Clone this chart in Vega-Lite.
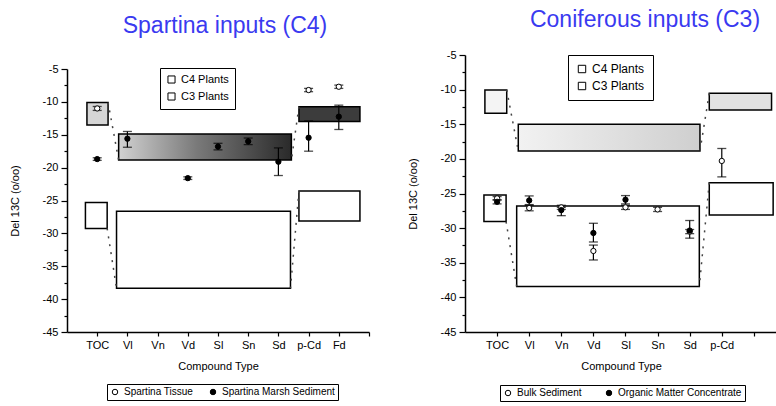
{
  "$schema": "https://vega.github.io/schema/vega-lite/v6.json",
  "background": "white",
  "padding": {"left": 9, "top": 9, "right": 0, "bottom": 0},
  "spacing": 37,
  "config": {
    "view": {"stroke": null},
    "font": "Liberation Sans",
    "axis": {"domainColor": "black", "domainWidth": 1.5, "tickColor": "black", "tickWidth": 1.2, "labelColor": "black", "titleColor": "black", "labelFontSize": 11, "titleFontSize": 11, "titleFontWeight": "normal", "grid": false, "labelPadding": 3, "labelOverlap": false, "labelFlush": false},
    "legend": {"labelFontSize": 10, "labelColor": "black"}
  },
  "resolve": {"scale": {"fill": "independent", "stroke": "independent"}, "legend": {"fill": "independent", "stroke": "independent"}},
  "datasets": {
    "boxL": [
      {"grp": "TOC", "plant": "C4 Plants", "x": 0.66, "x2": 1.36, "y": -10.1, "y2": -13.5},
      {"grp": "V-S", "plant": "C4 Plants", "x": 1.71, "x2": 7.43, "y": -14.9, "y2": -18.85},
      {"grp": "p-Cd", "plant": "C4 Plants", "x": 7.68, "x2": 9.7, "y": -10.75, "y2": -13.0},
      {"grp": "TOC", "plant": "C3 Plants", "x": 0.61, "x2": 1.33, "y": -25.3, "y2": -29.25},
      {"grp": "V-S", "plant": "C3 Plants", "x": 1.64, "x2": 7.4, "y": -26.65, "y2": -38.35},
      {"grp": "p-Cd", "plant": "C3 Plants", "x": 7.68, "x2": 9.7, "y": -23.55, "y2": -28.1}
    ],
    "connL": [
      {"x": 1.36, "y": -10.1, "x2": 1.71, "y2": -18.85},
      {"x": 1.33, "y": -29.25, "x2": 1.64, "y2": -38.35},
      {"x": 7.68, "y": -10.75, "x2": 7.43, "y2": -18.85},
      {"x": 7.68, "y": -23.55, "x2": 7.4, "y2": -38.35}
    ],
    "ptsL": [
      {"series": "Spartina Tissue", "x": 1, "y": -11.0, "lo": -11.3, "hi": -10.7},
      {"series": "Spartina Tissue", "x": 8, "y": -8.2, "lo": -8.45, "hi": -7.95},
      {"series": "Spartina Tissue", "x": 9, "y": -7.7, "lo": -7.95, "hi": -7.45},
      {"series": "Spartina Marsh Sediment", "x": 1, "y": -18.7, "lo": -18.9, "hi": -18.5},
      {"series": "Spartina Marsh Sediment", "x": 2, "y": -15.6, "lo": -16.9, "hi": -14.5},
      {"series": "Spartina Marsh Sediment", "x": 4, "y": -21.6, "lo": -21.8, "hi": -21.4},
      {"series": "Spartina Marsh Sediment", "x": 5, "y": -16.8, "lo": -17.3, "hi": -16.3},
      {"series": "Spartina Marsh Sediment", "x": 6, "y": -16.0, "lo": -16.5, "hi": -15.5},
      {"series": "Spartina Marsh Sediment", "x": 7, "y": -19.1, "lo": -21.2, "hi": -17.0},
      {"series": "Spartina Marsh Sediment", "x": 8, "y": -15.45, "lo": -17.5, "hi": -12.9},
      {"series": "Spartina Marsh Sediment", "x": 9, "y": -12.25, "lo": -14.2, "hi": -10.5}
    ],
    "boxR": [
      {"grp": "TOC", "plant": "C4 Plants", "x": 0.62, "x2": 1.3, "y": -10.05, "y2": -13.41},
      {"grp": "V-S", "plant": "C4 Plants", "x": 1.66, "x2": 7.32, "y": -15.0, "y2": -18.85},
      {"grp": "p-Cd", "plant": "C4 Plants", "x": 7.61, "x2": 9.55, "y": -10.53, "y2": -12.94},
      {"grp": "TOC", "plant": "C3 Plants", "x": 0.59, "x2": 1.28, "y": -25.2, "y2": -29.05},
      {"grp": "V-S", "plant": "C3 Plants", "x": 1.61, "x2": 7.3, "y": -26.8, "y2": -38.43},
      {"grp": "p-Cd", "plant": "C3 Plants", "x": 7.61, "x2": 9.6, "y": -23.43, "y2": -28.09}
    ],
    "connR": [
      {"x": 1.3, "y": -10.05, "x2": 1.66, "y2": -18.85},
      {"x": 1.28, "y": -29.05, "x2": 1.61, "y2": -38.43},
      {"x": 7.61, "y": -10.53, "x2": 7.32, "y2": -18.85},
      {"x": 7.61, "y": -23.43, "x2": 7.3, "y2": -38.43}
    ],
    "ptsR": [
      {"series": "Bulk Sediment", "x": 1, "y": -25.7, "lo": -25.95, "hi": -25.45},
      {"series": "Bulk Sediment", "x": 2, "y": -27.1, "lo": -27.5, "hi": -26.7},
      {"series": "Bulk Sediment", "x": 3, "y": -27.0, "lo": -27.3, "hi": -26.7},
      {"series": "Bulk Sediment", "x": 4, "y": -33.3, "lo": -34.6, "hi": -32.45},
      {"series": "Bulk Sediment", "x": 5, "y": -27.0, "lo": -27.3, "hi": -26.7},
      {"series": "Bulk Sediment", "x": 6, "y": -27.3, "lo": -27.6, "hi": -27.0},
      {"series": "Bulk Sediment", "x": 7, "y": -30.5, "lo": -30.8, "hi": -30.2},
      {"series": "Bulk Sediment", "x": 8, "y": -20.3, "lo": -22.6, "hi": -18.5},
      {"series": "Organic Matter Concentrate", "x": 1, "y": -26.2, "lo": -26.5, "hi": -25.9},
      {"series": "Organic Matter Concentrate", "x": 2, "y": -26.0, "lo": -26.6, "hi": -25.35},
      {"series": "Organic Matter Concentrate", "x": 3, "y": -27.4, "lo": -28.2, "hi": -27.0},
      {"series": "Organic Matter Concentrate", "x": 4, "y": -30.7, "lo": -32.0, "hi": -29.3},
      {"series": "Organic Matter Concentrate", "x": 5, "y": -25.9, "lo": -26.5, "hi": -25.3},
      {"series": "Organic Matter Concentrate", "x": 7, "y": -30.35, "lo": -31.45, "hi": -28.9}
    ]
  },
  "hconcat": [
    {
      "width": 302,
      "height": 277,
      "title": {"text": "Spartina inputs (C4)", "fontSize": 23, "font": "Liberation Sans", "fontWeight": "normal", "color": "#3a3af0", "offset": 17, "dx": 7},
      "layer": [
        {
          "data": {"name": "boxL"},
          "transform": [{"filter": "datum.plant === 'C3 Plants'"}],
          "mark": {"type": "rect", "fill": "white", "strokeWidth": 1.5},
          "encoding": {
            "x": {"field": "x", "type": "quantitative", "scale": {"domain": [0, 10], "nice": false, "zero": false},
                  "axis": {"title": "Compound Type", "values": [1, 2, 3, 4, 5, 6, 7, 8, 9, 10], "tickCount": 100, "labelExpr": "['','TOC','Vl','Vn','Vd','Sl','Sn','Sd','p-Cd','Fd',''][datum.value]", "tickSize": 4, "titlePadding": 10, "labelOverlap": false}},
            "x2": {"field": "x2"},
            "y": {"field": "y", "type": "quantitative", "scale": {"domain": [-45, -5], "range": [277, 14], "nice": false, "zero": false},
                  "axis": {"title": "Del 13C (o/oo)", "values": [-45, -42.5, -40, -37.5, -35, -32.5, -30, -27.5, -25, -22.5, -20, -17.5, -15, -12.5, -10, -7.5, -5], "tickCount": 100, "labelExpr": "datum.value % 5 === 0 ? '' + datum.value : ''", "tickSize": {"condition": {"test": "datum.value % 5 === 0", "value": 6}, "value": 3}, "titlePadding": 22, "labelOverlap": false}},
            "y2": {"field": "y2"},
            "stroke": {"field": "plant", "type": "nominal", "scale": {"domain": ["C4 Plants", "C3 Plants"], "range": ["black", "black"]},
                       "legend": {"orient": "none", "legendX": 93, "legendY": 13, "title": null, "symbolType": "square", "symbolFillColor": "white", "symbolStrokeColor": "black", "symbolStrokeWidth": 1, "symbolSize": 50, "strokeColor": "black", "padding": 6, "labelFontSize": 11, "rowPadding": 4}}
          }
        },
        {
          "data": {"name": "boxL"},
          "transform": [{"filter": "datum.plant === 'C4 Plants' && datum.grp === 'TOC'"}],
          "mark": {"type": "rect", "fill": "#d6d6d6", "stroke": "black", "strokeWidth": 1.5},
          "encoding": {"x": {"field": "x", "type": "quantitative"}, "x2": {"field": "x2"}, "y": {"field": "y", "type": "quantitative"}, "y2": {"field": "y2"}}
        },
        {
          "data": {"name": "boxL"},
          "transform": [{"filter": "datum.plant === 'C4 Plants' && datum.grp === 'V-S'"}],
          "mark": {"type": "rect", "stroke": "black", "strokeWidth": 1.5,
                   "fill": {"gradient": "linear", "x1": 0, "y1": 0, "x2": 1, "y2": 0, "stops": [{"offset": 0, "color": "#d2d2d2"}, {"offset": 0.45, "color": "#7a7a7a"}, {"offset": 1, "color": "#2a2a2a"}]}},
          "encoding": {"x": {"field": "x", "type": "quantitative"}, "x2": {"field": "x2"}, "y": {"field": "y", "type": "quantitative"}, "y2": {"field": "y2"}}
        },
        {
          "data": {"name": "boxL"},
          "transform": [{"filter": "datum.plant === 'C4 Plants' && datum.grp === 'p-Cd'"}],
          "mark": {"type": "rect", "fill": "#3c3c3c", "stroke": "black", "strokeWidth": 1.5},
          "encoding": {"x": {"field": "x", "type": "quantitative"}, "x2": {"field": "x2"}, "y": {"field": "y", "type": "quantitative"}, "y2": {"field": "y2"}}
        },
        {
          "data": {"name": "connL"},
          "mark": {"type": "rule", "color": "#444", "strokeWidth": 1.5, "strokeDash": [2, 6]},
          "encoding": {"x": {"field": "x", "type": "quantitative"}, "x2": {"field": "x2"}, "y": {"field": "y", "type": "quantitative"}, "y2": {"field": "y2"}}
        },
        {
          "data": {"name": "ptsL"},
          "mark": {"type": "rule", "color": "black", "strokeWidth": 1.2},
          "encoding": {"x": {"field": "x", "type": "quantitative"}, "y": {"field": "lo", "type": "quantitative"}, "y2": {"field": "hi"}}
        },
        {
          "data": {"name": "ptsL"},
          "mark": {"type": "tick", "orient": "horizontal", "color": "black", "size": 9, "thickness": 1.3},
          "encoding": {"x": {"field": "x", "type": "quantitative"}, "y": {"field": "lo", "type": "quantitative"}}
        },
        {
          "data": {"name": "ptsL"},
          "mark": {"type": "tick", "orient": "horizontal", "color": "black", "size": 9, "thickness": 1.3},
          "encoding": {"x": {"field": "x", "type": "quantitative"}, "y": {"field": "hi", "type": "quantitative"}}
        },
        {
          "data": {"name": "ptsL"},
          "mark": {"type": "point", "shape": "circle", "filled": true, "size": 28, "stroke": "black", "strokeWidth": 1, "opacity": 1},
          "encoding": {
            "x": {"field": "x", "type": "quantitative"},
            "y": {"field": "y", "type": "quantitative"},
            "fill": {"field": "series", "type": "nominal", "scale": {"domain": ["Spartina Tissue", "Spartina Marsh Sediment"], "range": ["white", "black"]},
                     "legend": {"orient": "none", "legendX": 40, "legendY": 329, "direction": "horizontal", "title": null, "strokeColor": "black", "padding": 3, "columnPadding": 14, "symbolType": "circle", "symbolSize": 30, "symbolStrokeColor": "black", "symbolStrokeWidth": 1, "labelFontSize": 10, "labelLimit": 200}}
          }
        }
      ]
    },
    {
      "width": 312,
      "height": 277,
      "title": {"text": "Coniferous inputs (C3)", "fontSize": 23, "font": "Liberation Sans", "fontWeight": "normal", "color": "#3a3af0", "offset": 17, "dx": 24},
      "layer": [
        {
          "data": {"name": "boxR"},
          "transform": [{"filter": "datum.plant === 'C3 Plants'"}],
          "mark": {"type": "rect", "fill": "white", "strokeWidth": 1.5},
          "encoding": {
            "x": {"field": "x", "type": "quantitative", "scale": {"domain": [0, 9.72], "nice": false, "zero": false},
                  "axis": {"title": "Compound Type", "values": [1, 2, 3, 4, 5, 6, 7, 8, 9], "tickCount": 100, "labelExpr": "['','TOC','Vl','Vn','Vd','Sl','Sn','Sd','p-Cd',''][datum.value]", "tickSize": 4, "titlePadding": 10, "labelOverlap": false}},
            "x2": {"field": "x2"},
            "y": {"field": "y", "type": "quantitative", "scale": {"domain": [-45, -5], "nice": false, "zero": false},
                  "axis": {"title": "Del 13C (o/oo)", "values": [-45, -42.5, -40, -37.5, -35, -32.5, -30, -27.5, -25, -22.5, -20, -17.5, -15, -12.5, -10, -7.5, -5], "tickCount": 100, "labelExpr": "datum.value % 5 === 0 ? '' + datum.value : ''", "tickSize": {"condition": {"test": "datum.value % 5 === 0", "value": 6}, "value": 3}, "titlePadding": 22, "labelOverlap": false}},
            "y2": {"field": "y2"},
            "stroke": {"field": "plant", "type": "nominal", "scale": {"domain": ["C4 Plants", "C3 Plants"], "range": ["black", "black"]},
                       "legend": {"orient": "none", "legendX": 103, "legendY": 0, "title": null, "symbolType": "square", "symbolFillColor": "white", "symbolStrokeColor": "black", "symbolStrokeWidth": 1, "symbolSize": 55, "strokeColor": "black", "padding": 8, "labelFontSize": 12, "rowPadding": 5}}
          }
        },
        {
          "data": {"name": "boxR"},
          "transform": [{"filter": "datum.plant === 'C4 Plants' && datum.grp === 'TOC'"}],
          "mark": {"type": "rect", "fill": "#f4f4f4", "stroke": "black", "strokeWidth": 1.5},
          "encoding": {"x": {"field": "x", "type": "quantitative"}, "x2": {"field": "x2"}, "y": {"field": "y", "type": "quantitative"}, "y2": {"field": "y2"}}
        },
        {
          "data": {"name": "boxR"},
          "transform": [{"filter": "datum.plant === 'C4 Plants' && datum.grp === 'V-S'"}],
          "mark": {"type": "rect", "stroke": "black", "strokeWidth": 1.5,
                   "fill": {"gradient": "linear", "x1": 0, "y1": 0, "x2": 1, "y2": 0, "stops": [{"offset": 0, "color": "#f2f2f2"}, {"offset": 1, "color": "#cfcfcf"}]}},
          "encoding": {"x": {"field": "x", "type": "quantitative"}, "x2": {"field": "x2"}, "y": {"field": "y", "type": "quantitative"}, "y2": {"field": "y2"}}
        },
        {
          "data": {"name": "boxR"},
          "transform": [{"filter": "datum.plant === 'C4 Plants' && datum.grp === 'p-Cd'"}],
          "mark": {"type": "rect", "fill": "#e2e2e2", "stroke": "black", "strokeWidth": 1.5},
          "encoding": {"x": {"field": "x", "type": "quantitative"}, "x2": {"field": "x2"}, "y": {"field": "y", "type": "quantitative"}, "y2": {"field": "y2"}}
        },
        {
          "data": {"name": "connR"},
          "mark": {"type": "rule", "color": "#444", "strokeWidth": 1.5, "strokeDash": [2, 6]},
          "encoding": {"x": {"field": "x", "type": "quantitative"}, "x2": {"field": "x2"}, "y": {"field": "y", "type": "quantitative"}, "y2": {"field": "y2"}}
        },
        {
          "data": {"name": "ptsR"},
          "mark": {"type": "rule", "color": "black", "strokeWidth": 1.2},
          "encoding": {"x": {"field": "x", "type": "quantitative"}, "y": {"field": "lo", "type": "quantitative"}, "y2": {"field": "hi"}}
        },
        {
          "data": {"name": "ptsR"},
          "mark": {"type": "tick", "orient": "horizontal", "color": "black", "size": 9, "thickness": 1.3},
          "encoding": {"x": {"field": "x", "type": "quantitative"}, "y": {"field": "lo", "type": "quantitative"}}
        },
        {
          "data": {"name": "ptsR"},
          "mark": {"type": "tick", "orient": "horizontal", "color": "black", "size": 9, "thickness": 1.3},
          "encoding": {"x": {"field": "x", "type": "quantitative"}, "y": {"field": "hi", "type": "quantitative"}}
        },
        {
          "data": {"name": "ptsR"},
          "mark": {"type": "point", "shape": "circle", "filled": true, "size": 28, "stroke": "black", "strokeWidth": 1, "opacity": 1},
          "encoding": {
            "x": {"field": "x", "type": "quantitative"},
            "y": {"field": "y", "type": "quantitative"},
            "fill": {"field": "series", "type": "nominal", "scale": {"domain": ["Bulk Sediment", "Organic Matter Concentrate"], "range": ["white", "black"]},
                     "legend": {"orient": "none", "legendX": 35, "legendY": 330, "direction": "horizontal", "title": null, "strokeColor": "black", "padding": 3, "columnPadding": 22, "symbolType": "circle", "symbolSize": 30, "symbolStrokeColor": "black", "symbolStrokeWidth": 1, "labelFontSize": 10, "labelLimit": 200}}
          }
        }
      ]
    }
  ]
}
